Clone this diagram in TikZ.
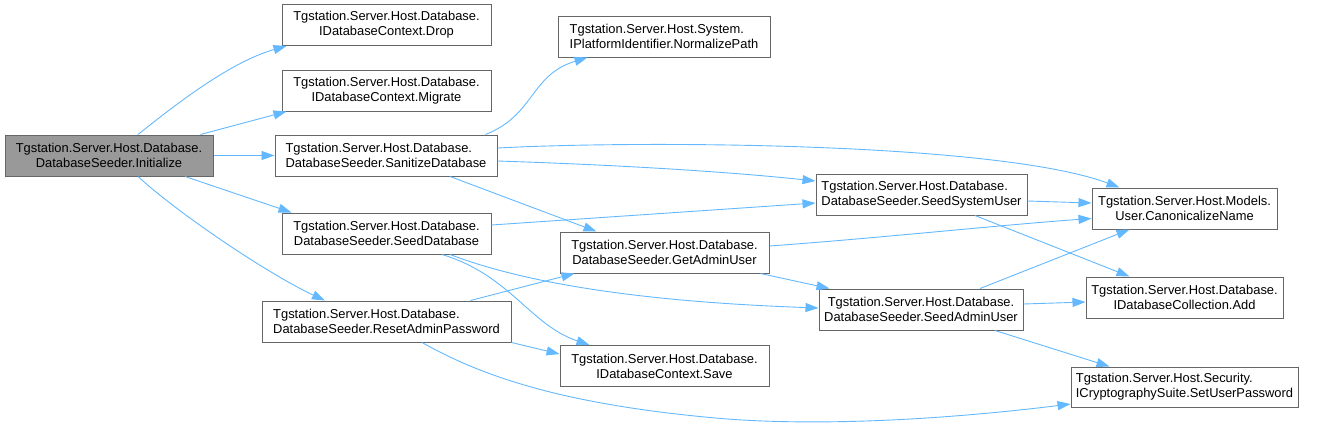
\documentclass[tikz,border=0pt]{standalone}
\usepackage{fontspec}
\setmainfont{Liberation Sans}
\usetikzlibrary{arrows.meta}
\definecolor{edgec}{HTML}{63B8FF}
\definecolor{boxc}{HTML}{666666}
\definecolor{rootc}{HTML}{999999}
\begin{document}
\begin{tikzpicture}[x=1pt,y=-1pt,
  fn/.style={draw=boxc, line width=1pt, fill=white, inner sep=0pt,
    font=\fontsize{12.9}{15}\selectfont, minimum height=41pt},
  lft/.style={align=left},
  ctr/.style={align=center},
  edge/.style={draw=edgec, line width=0.9pt, -{Triangle[length=13pt,width=9pt]}}]
\useasboundingbox (0,0) rectangle (1333,429);

% nodes
\node[fn, ctr, fill=rootc, minimum width=208pt] (init) at (109,155.5) {Tgstation.Server.Host.Database.\\DatabaseSeeder.Initialize};
\node[fn, ctr, minimum width=209pt] (drop) at (386.5,25) {Tgstation.Server.Host.Database.\\IDatabaseContext.Drop};
\node[fn, ctr, minimum width=209pt] (migrate) at (386.5,90.5) {Tgstation.Server.Host.Database.\\IDatabaseContext.Migrate};
\node[fn, lft, minimum width=222pt] (sanitize) at (386,155.5) {Tgstation.Server.Host.Database.\\DatabaseSeeder.SanitizeDatabase};
\node[fn, ctr, minimum width=209pt] (seeddb) at (386.5,233.5) {Tgstation.Server.Host.Database.\\DatabaseSeeder.SeedDatabase};
\node[fn, lft, minimum width=249pt] (reset) at (386.5,321.5) {Tgstation.Server.Host.Database.\\DatabaseSeeder.ResetAdminPassword};
\node[fn, lft, minimum width=212pt] (normalize) at (664,36.5) {Tgstation.Server.Host.System.\\IPlatformIdentifier.NormalizePath};
\node[fn, ctr, minimum width=209pt] (getadmin) at (664.5,252.5) {Tgstation.Server.Host.Database.\\DatabaseSeeder.GetAdminUser};
\node[fn, ctr, minimum width=209pt] (save) at (664.5,366) {Tgstation.Server.Host.Database.\\IDatabaseContext.Save};
\node[fn, lft, minimum width=211pt] (seedsys) at (921.5,194.5) {Tgstation.Server.Host.Database.\\DatabaseSeeder.SeedSystemUser};
\node[fn, ctr, minimum width=204pt] (seedadmin) at (921,309.5) {Tgstation.Server.Host.Database.\\DatabaseSeeder.SeedAdminUser};
\node[fn, ctr, minimum width=185pt] (canon) at (1184.5,208.5) {Tgstation.Server.Host.Models.\\User.CanonicalizeName};
\node[fn, ctr, minimum width=197pt] (add) at (1184.5,297.5) {Tgstation.Server.Host.Database.\\IDatabaseCollection.Add};
\node[fn, lft, minimum width=227pt, minimum height=40pt] (setpw) at (1184.5,387) {Tgstation.Server.Host.Security.\\ICryptographySuite.SetUserPassword};

% edges from Initialize
\draw[edge] ([xshift=29pt]init.north) .. controls (175,105) and (230,62) .. ([xshift=5pt]drop.south west);
\draw[edge] ([xshift=-13pt]init.north east) -- ([xshift=5pt]migrate.south west);
\draw[edge] (init.east) -- (sanitize.west);
\draw[edge] ([xshift=76pt]init.south) -- ([xshift=10pt]seeddb.north west);
\draw[edge] ([xshift=29pt]init.south) .. controls (180,215) and (270,275) .. ([xshift=-61.5pt]reset.north);

% edges from SanitizeDatabase
\draw[edge] ([xshift=-12pt]sanitize.north east) .. controls (535,115) and (530,75) .. ([xshift=30pt]normalize.south west);
\draw[edge] ([yshift=7.5pt]sanitize.east) .. controls (650,140) and (1000,143) .. ([xshift=28pt]canon.north west);
\draw[edge] ([yshift=-5.5pt]sanitize.east) .. controls (650,166) and (750,174) .. ([yshift=13.5pt]seedsys.west);
\draw[edge] ([xshift=64pt]sanitize.south) -- ([xshift=37pt]getadmin.north west);

% edges from SeedDatabase
\draw[edge] ([yshift=8.5pt]seeddb.east) -- ([yshift=-8.5pt]seedsys.west);
\draw[edge] ([xshift=55.5pt]seeddb.south) .. controls (510,275) and (530,325) .. ([xshift=30pt]save.north west);
\draw[edge] ([xshift=63.5pt]seeddb.south) .. controls (530,285) and (650,302) .. ([yshift=1.5pt]seedadmin.west);

% edges from ResetAdminPassword
\draw[edge] ([xshift=-41pt]reset.north east) -- ([xshift=15pt]getadmin.south west);
\draw[edge] (reset.south east) -- ([yshift=12pt]save.west);
\draw[edge] ([xshift=35.5pt]reset.south) .. controls (480,375) and (560,405) .. (727,419)
  .. controls (850,428) and (990,414) .. ([yshift=-17pt]setpw.west);

% edges from GetAdminUser
\draw[edge] ([yshift=6.5pt]getadmin.east) .. controls (880,238) and (1000,225) .. ([yshift=-10pt]canon.west);
\draw[edge] ([xshift=-9pt]getadmin.south east) -- ([xshift=11pt]seedadmin.north west);

% edges from SeedSystemUser
\draw[edge] ([yshift=-6.5pt]seedsys.east) -- ([yshift=5.5pt]canon.west);
\draw[edge] ([xshift=53.5pt]seedsys.south) -- ([xshift=44pt]add.north west);

% edges from SeedAdminUser
\draw[edge] ([xshift=59pt]seedadmin.north) -- ([xshift=38pt]canon.south west);
\draw[edge] ([yshift=5.5pt]seedadmin.east) -- ([yshift=-4.5pt]add.west);
\draw[edge] ([xshift=74pt]seedadmin.south) -- ([xshift=39pt]setpw.north west);
\end{tikzpicture}
\end{document}
